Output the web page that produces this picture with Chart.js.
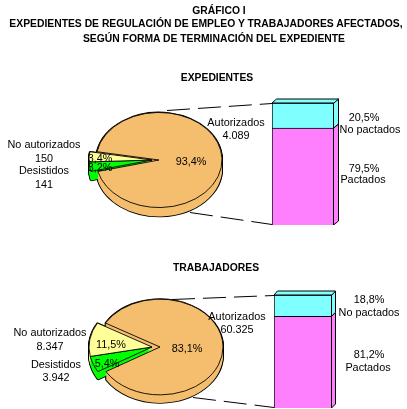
<!DOCTYPE html>
<html>
<head>
<meta charset="utf-8">
<script src="https://cdn.jsdelivr.net/npm/chart.js@4"></script>
<style>
	html, body { margin: 0; padding: 0; background: #fff; overflow: hidden; }
	#root { position: relative; width: 407px; height: 409px; }
	canvas { position: absolute; }
	.t {
		position: absolute; white-space: nowrap; transform: translate(-50%, -50%);
		font: 10.85px "Liberation Sans", Arial, sans-serif; color: #000; line-height: 1;
	}
	.b { font-weight: bold; font-size: 10.35px; }
</style>
</head>
<body>
<div id="root"></div>
<script>
// data
var pieCategories = ['Autorizados', 'Desistidos', 'No autorizados'];
var expedientes = [4089, 141, 150];
var trabajadores = [60325, 3942, 8347];
var barCategories = ['Pactados', 'No pactados'];
var expedientesBar = [79.5, 20.5];
var trabajadoresBar = [81.2, 18.8];
var titleLines = ['GRÁFICO I', 'EXPEDIENTES DE REGULACIÓN DE EMPLEO Y TRABAJADORES AFECTADOS,', 'SEGÚN FORMA DE TERMINACIÓN DEL EXPEDIENTE'];
var panelTitles = ['EXPEDIENTES', 'TRABAJADORES'];

var pieColors = ['#F4BE6E', '#00FF00', '#FFFF99'];
var barColors = ['#FF80FF', '#80FFFF'];
var root = document.getElementById('root');

function num(v) {
	return String(v).replace(/\B(?=(\d{3})+$)/g, '.');
}
function pct(v) {
	return v.toFixed(1).replace('.', ',') + '%';
}
function share(values, i) {
	var sum = values.reduce(function (a, b) { return a + b; }, 0);
	return pct(values[i] / sum * 100);
}
function addText(text, x, y, bold) {
	var el = document.createElement('div');
	el.className = bold ? 't b' : 't';
	el.textContent = text;
	el.style.left = x + 'px';
	el.style.top = y + 'px';
	root.appendChild(el);
}
function addCanvas(left, top, w, h) {
	var c = document.createElement('canvas');
	c.width = w;
	c.height = h;
	c.style.left = left + 'px';
	c.style.top = top + 'px';
	c.style.width = w + 'px';
	c.style.height = h + 'px';
	root.appendChild(c);
	return c;
}

// flat pie squashed into an ellipse, with a wall and the small slices pulled left
var pie3d = {
	id: 'pie3d',
	beforeDatasetsDraw(chart, args, opts) {
		var ctx = chart.ctx;
		var arcs = chart.getDatasetMeta(0).data;
		var cx = arcs[0].x, cy = arcs[0].y;

		function layer(depth, width) {
			arcs.forEach(function (arc, i) {
				var keep = arc.options;
				arc.options = Object.assign({}, keep, { borderWidth: width });
				ctx.save();
				ctx.translate(cx + (i > 0 ? opts.pull : 0), cy + depth);
				ctx.scale(1, opts.squash);
				ctx.translate(-cx, -cy);
				arc.draw(ctx);
				ctx.restore();
				arc.options = keep;
			});
		}
		var d;
		for (d = opts.depth; d >= 0; d--) layer(d, 2);
		for (d = opts.depth; d > 0; d--) layer(d, 0);
		layer(0, 1);
		return false;
	}
};

// top and side faces of the column
var bar3d = {
	id: 'bar3d',
	afterDatasetsDraw(chart, args, opts) {
		var ctx = chart.ctx;
		chart.data.datasets.forEach(function (ds, i) {
			var bar = chart.getDatasetMeta(i).data[0];
			var right = bar.x + bar.width / 2, left = bar.x - bar.width / 2;
			ctx.save();
			ctx.fillStyle = ds.backgroundColor;
			ctx.strokeStyle = '#000';
			ctx.lineWidth = 1;
			ctx.beginPath();
			ctx.moveTo(right - 0.5, bar.y);
			ctx.lineTo(right + opts.dx, bar.y - opts.dy);
			ctx.lineTo(right + opts.dx, bar.base - opts.dy);
			ctx.lineTo(right - 0.5, bar.base);
			ctx.closePath();
			ctx.fill();
			ctx.stroke();
			if (i === chart.data.datasets.length - 1) {
				ctx.beginPath();
				ctx.moveTo(left, bar.y);
				ctx.lineTo(left + opts.dx, bar.y - opts.dy);
				ctx.lineTo(right + opts.dx, bar.y - opts.dy);
				ctx.lineTo(right, bar.y);
				ctx.closePath();
				ctx.fill();
				ctx.stroke();
			}
			ctx.restore();
		});
	}
};

function makePie(cx, cy, values, rotation, depth, radius, squash, pull) {
	var c = addCanvas(cx - 85, cy - 85, 170, 170);
	return new Chart(c, {
		type: 'pie',
		data: {
			labels: pieCategories,
			datasets: [{ data: values, backgroundColor: pieColors, borderColor: '#000', borderWidth: 1 }]
		},
		options: {
			responsive: false,
			animation: false,
			devicePixelRatio: 1,
			rotation: rotation,
			radius: radius,
			plugins: {
				legend: { display: false },
				tooltip: { enabled: false },
				pie3d: { depth: depth, squash: squash, pull: pull }
			}
		},
		plugins: [pie3d]
	});
}

function makeBar(left, top, w, h, values, dx, dy) {
	var c = addCanvas(left, top - 7, w + 7, h + 7);
	return new Chart(c, {
		type: 'bar',
		data: {
			labels: [''],
			datasets: barCategories.map(function (name, i) {
				return {
					label: name, data: [values[i]], backgroundColor: barColors[i],
					borderColor: '#000', borderWidth: 1, barPercentage: 1, categoryPercentage: 1
				};
			})
		},
		options: {
			responsive: false,
			animation: false,
			devicePixelRatio: 1,
			layout: { padding: { top: 7, right: 7, left: 0, bottom: 0 } },
			scales: {
				x: { display: false, stacked: true },
				y: { display: false, stacked: true, min: 0, max: 100 }
			},
			plugins: {
				legend: { display: false },
				tooltip: { enabled: false },
				bar3d: { dx: dx, dy: dy }
			}
		},
		plugins: [bar3d]
	});
}

// dashed leader lines between pie and column
var leaders = addCanvas(0, 0, 407, 409).getContext('2d');
leaders.setLineDash([23, 8]);
[[167, 110, 272, 103], [190, 212, 272, 224], [172, 299, 274, 295], [193, 397, 274, 407]].forEach(function (l) {
	leaders.beginPath();
	leaders.moveTo(l[0], l[1] + 0.5);
	leaders.lineTo(l[2], l[3] + 0.5);
	leaders.stroke();
});

makePie(159, 160, expedientes, 280, 9, 63, 0.755, -7);
makePie(160, 347, trabajadores, 300, 8, 63, 0.76, -8);
makeBar(272, 103, 62, 122, expedientesBar, 4.5, 4);
makeBar(274, 295, 58, 113, trabajadoresBar, 3.5, 4);

// texts
addText(titleLines[0], 219, 11, true);
addText(titleLines[1], 206, 24, true);
addText(titleLines[2], 214, 39, true);
addText(panelTitles[0], 217, 78, true);
addText(panelTitles[1], 216, 268, true);

addText(pieCategories[2], 44, 144);
addText(num(expedientes[2]), 44, 158);
addText(pieCategories[1], 44, 170);
addText(num(expedientes[1]), 44, 184);
addText(pieCategories[0], 236, 122);
addText(num(expedientes[0]), 236, 135);
addText(share(expedientes, 0), 191, 161);
addText(share(expedientes, 2), 100, 158);
addText(share(expedientes, 1), 100, 167);
addText(pct(expedientesBar[1]), 364, 117);
addText(barCategories[1], 370, 129);
addText(pct(expedientesBar[0]), 364, 168);
addText(barCategories[0], 363, 179);

addText(pieCategories[2], 50, 332);
addText(num(trabajadores[2]), 50, 346);
addText(pieCategories[1], 56, 364);
addText(num(trabajadores[1]), 56, 377);
addText(pieCategories[0], 237, 316);
addText(num(trabajadores[0]), 237, 329);
addText(share(trabajadores, 0), 187, 348);
addText(share(trabajadores, 2), 111, 344);
addText(share(trabajadores, 1), 107, 363);
addText(pct(trabajadoresBar[1]), 369, 299);
addText(barCategories[1], 369, 312);
addText(pct(trabajadoresBar[0]), 369, 354);
addText(barCategories[0], 368, 367);
</script>
</body>
</html>
